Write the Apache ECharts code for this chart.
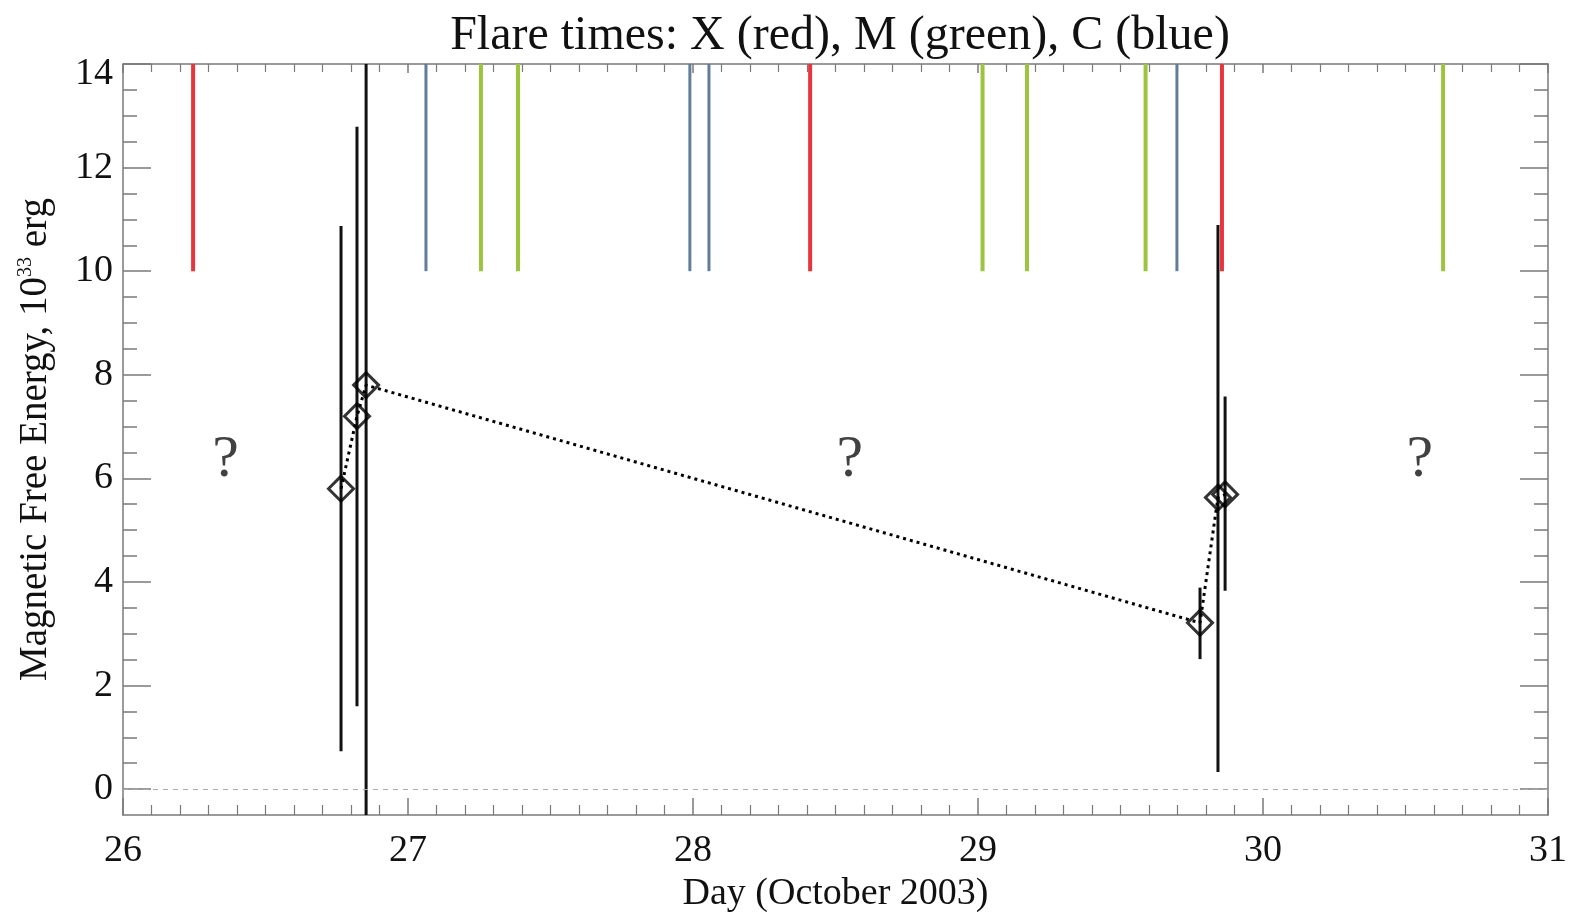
<!DOCTYPE html>
<html>
<head>
<meta charset="utf-8">
<script src="https://cdn.jsdelivr.net/npm/echarts@6/dist/echarts.min.js"></script>
<style>
  html, body { margin: 0; padding: 0; background: #fff; }
  #container { width: 1569px; height: 912px; }
</style>
</head>
<body>
<div id="container"></div>
<script>
// flare onset times (day of October 2003) and class
var flareDays = [26.246, 27.063, 27.256, 27.386, 27.989, 28.056, 28.411, 29.016, 29.172, 29.588, 29.698, 29.856, 30.632];
var flareClass = ['X', 'C', 'M', 'M', 'C', 'C', 'X', 'M', 'M', 'M', 'C', 'X', 'M'];

// free energy estimates, 10^33 erg
var pointDays = [26.765, 26.821, 26.853, 29.779, 29.842, 29.867];
var pointVals = [5.80, 7.20, 7.80, 3.21, 5.63, 5.69];
var errLow = [0.73, 1.60, -0.8, 2.51, 0.33, 3.83];
var errHigh = [10.87, 12.79, 15.2, 3.89, 10.89, 7.58];

var qDays = [26.36, 28.55, 30.55];
var qVals = [6.35, 6.35, 6.35];

var yMajor = [0, 2, 4, 6, 8, 10, 12, 14];
var yMinor = [0.5, 1, 1.5, 2.5, 3, 3.5, 4.5, 5, 5.5, 6.5, 7, 7.5, 8.5, 9, 9.5, 10.5, 11, 11.5, 12.5, 13, 13.5];

var flareColors = { X: '#e8343c', M: '#9cc43c', C: '#617e98' };
var font = 'Liberation Serif';
var axisGray = '#7a7a7a';

let chart = echarts.init(document.getElementById('container'));

function xAxisDef(pos, showLabel) {
    return {
        type: 'value', position: pos, min: 26, max: 31, interval: 1,
        axisLine: { show: true, onZero: false, lineStyle: { color: axisGray, width: 1.5 } },
        axisTick: { show: true, inside: true, length: pos == 'bottom' ? 17 : 9, lineStyle: { color: axisGray, width: 1.5 } },
        minorTick: { show: true, splitNumber: 10, length: pos == 'bottom' ? 10 : 8, lineStyle: { color: axisGray, width: 1.2 } },
        axisLabel: { show: showLabel, margin: 17, fontFamily: font, fontSize: 38, color: '#111' },
        splitLine: { show: false },
        name: showLabel ? 'Day (October 2003)' : '',
        nameLocation: 'middle', nameGap: 56,
        nameTextStyle: { fontFamily: font, fontSize: 38, color: '#111' },
    };
}

function yAxisDef(pos, ticks, len, showLabel, showLine) {
    return {
        type: 'value', position: pos, min: -0.5, max: 14,
        axisLine: { show: showLine, onZero: false, lineStyle: { color: axisGray, width: 1.5 } },
        axisTick: { show: true, inside: true, length: len, customValues: ticks, lineStyle: { color: axisGray, width: 1.5 } },
        axisLabel: {
            show: showLabel, customValues: ticks, margin: 10, fontFamily: font, fontSize: 38, color: '#111',
            // top label sits a little below its tick in the original
            formatter: v => v == 14 ? '{e|}\n{t|14}' : '' + v,
            rich: {
                e: { fontSize: 10, lineHeight: 20 },
                t: { fontFamily: font, fontSize: 38, color: '#111', lineHeight: 40 },
            },
        },
        splitLine: { show: false },
        name: showLabel ? '{a|Magnetic Free Energy, 10}{s|33}{a| erg}' : '',
        nameLocation: 'middle', nameGap: 68, nameRotate: 90,
        nameTextStyle: {
            rich: {
                a: { fontFamily: font, fontSize: 39, color: '#111' },
                s: { fontFamily: font, fontSize: 20, color: '#111', verticalAlign: 'top', padding: [0, 0, 17, 0] },
            },
        },
    };
}

let option = {
    animation: false,
    title: {
        text: 'Flare times: X (red), M (green), C (blue)',
        left: 835, textAlign: 'center', top: 7,
        textStyle: { fontFamily: font, fontSize: 48, fontWeight: 'normal', color: '#111' },
    },
    grid: { left: 123, right: 21, top: 64, bottom: 97, outerBoundsMode: 'none' },
    xAxis: [xAxisDef('bottom', true), xAxisDef('top', false)],
    yAxis: [
        yAxisDef('left', yMajor, 28, true, true),
        yAxisDef('left', yMinor, 14, false, false),
        yAxisDef('right', yMajor, 28, false, true),
        yAxisDef('right', yMinor, 14, false, false),
    ],
    series: [
        {
            name: 'flares',
            type: 'custom',
            clip: true,
            data: flareDays.map((d, i) => [d, 10, 14]),
            renderItem: function(params, api) {
                let p1 = api.coord([api.value(0), api.value(1)]);
                let p2 = api.coord([api.value(0), api.value(2)]);
                let cls = flareClass[params.dataIndex];
                return {
                    type: 'line',
                    shape: { x1: p1[0], y1: p1[1], x2: p2[0], y2: p2[1] },
                    style: { stroke: flareColors[cls], lineWidth: cls == 'C' ? 3 : 4 },
                };
            },
            markLine: {
                silent: true, symbol: 'none', label: { show: false },
                lineStyle: { color: '#aaa', type: [5, 5], width: 1.2 },
                data: [{ yAxis: 0 }],
            },
        },
        {
            name: 'errors',
            type: 'custom',
            clip: true,
            data: pointDays.map((d, i) => [d, errLow[i], errHigh[i]]),
            renderItem: function(params, api) {
                let p1 = api.coord([api.value(0), api.value(1)]);
                let p2 = api.coord([api.value(0), api.value(2)]);
                return {
                    type: 'line',
                    shape: { x1: p1[0], y1: p1[1], x2: p2[0], y2: p2[1] },
                    style: { stroke: '#111', lineWidth: 3 },
                };
            },
        },
        {
            name: 'trend',
            type: 'line',
            showSymbol: false,
            data: pointDays.map((d, i) => [d, pointVals[i]]),
            lineStyle: { color: '#000', width: 3, type: [3, 4] },
        },
        {
            name: 'energy',
            type: 'scatter',
            symbol: 'diamond',
            symbolSize: [25, 25],
            data: pointDays.map((d, i) => [d, pointVals[i]]),
            itemStyle: { color: 'rgba(0,0,0,0)', borderColor: '#000', borderWidth: 3 },
        },
        {
            name: 'unknown',
            type: 'scatter',
            symbolSize: 0,
            data: qDays.map((d, i) => [d, qVals[i]]),
            label: {
                show: true, position: 'inside', formatter: '?',
                fontFamily: font, fontSize: 60, color: '#111',
            },
        },
    ],
};

chart.setOption(option);
</script>
</body>
</html>
